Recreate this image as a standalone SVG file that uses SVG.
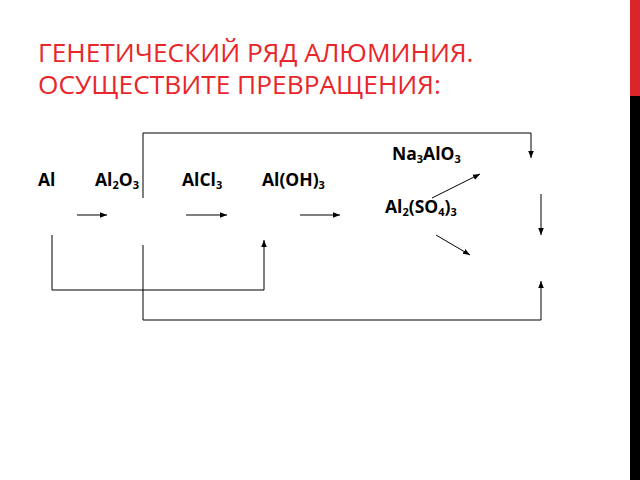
<svg xmlns="http://www.w3.org/2000/svg" width="640" height="480" viewBox="0 0 640 480">
<style>
.t{font-family:"Open Sans","DejaVu Sans",sans-serif;font-size:26.3px;fill:#e8262b}
.f{font-family:"Open Sans","DejaVu Sans",sans-serif;font-size:17.5px;font-weight:bold;fill:#000}
.s{font-size:11px}
.c{stroke:#000;stroke-width:1;fill:none}
</style>
<defs><marker id="a" viewBox="0 0 10 10" refX="10" refY="5" markerWidth="7" markerHeight="7" orient="auto"><path d="M0,1 L10,5 L0,9 z" fill="#000"/></marker></defs>
<rect x="0" y="0" width="640" height="480" fill="#fff"/>
<rect x="630" y="0" width="10" height="96" fill="#d9262d"/>
<rect x="630" y="96" width="10" height="384" fill="#000"/>
<text class="t" x="38" y="62">ГЕНЕТИЧЕСКИЙ РЯД АЛЮМИНИЯ.</text>
<text class="t" x="38" y="94">ОСУЩЕСТВИТЕ ПРЕВРАЩЕНИЯ:</text>
<g id="n1"><text class="f" x="38" y="186">Al</text></g>
<g id="n2"><text class="f" x="95" y="186">Al<tspan class="s" dy="3">2</tspan><tspan dy="-3">O</tspan><tspan class="s" dy="3">3</tspan></text></g>
<g id="n3"><text class="f" x="182" y="186">AlCl<tspan class="s" dy="3">3</tspan></text></g>
<g id="n4"><text class="f" x="262" y="186">Al(OH)<tspan class="s" dy="3">3</tspan></text></g>
<g id="n5"><text class="f" x="392" y="160">Na<tspan class="s" dy="3">3</tspan><tspan dy="-3">AlO</tspan><tspan class="s" dy="3">3</tspan></text></g>
<g id="n6"><text class="f" x="385" y="213">Al<tspan class="s" dy="3">2</tspan><tspan dy="-3">(SO</tspan><tspan class="s" dy="3">4</tspan><tspan dy="-3">)</tspan><tspan class="s" dy="3">3</tspan></text></g>
<g id="connectors" class="c">
<path d="M143,198 V133 H531 V158" marker-end="url(#a)"/>
<path d="M77,215 H107" marker-end="url(#a)"/>
<path d="M186,215 H227" marker-end="url(#a)"/>
<path d="M300,215 H340" marker-end="url(#a)"/>
<path d="M52,235 V290 H264 V240" marker-end="url(#a)"/>
<path d="M143,245 V320 H541 V281" marker-end="url(#a)"/>
<path d="M541,194 V235" marker-end="url(#a)"/>
<path d="M432,198 L480,174" marker-end="url(#a)"/>
<path d="M436,235 L470,255" marker-end="url(#a)"/>
</g>
</svg>
